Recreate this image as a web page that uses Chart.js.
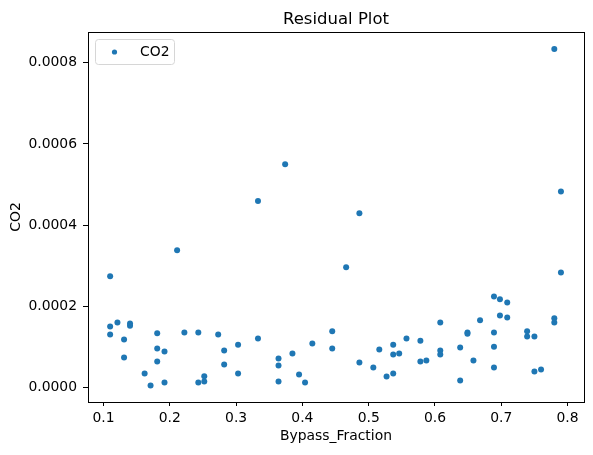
<!DOCTYPE html>
<html>
<head>
<meta charset="utf-8">
<script src="https://cdn.jsdelivr.net/npm/chart.js@4/dist/chart.umd.min.js"></script>
<style>
  html, body { margin: 0; padding: 0; background: #fff; }
  #wrap { width: 593px; height: 455px; position: relative; }
</style>
</head>
<body>
<div id="wrap"><canvas id="residualChart"></canvas></div>
<script>
// residual data
const bypassFraction = [
  0.110, 0.211, 0.110, 0.121, 0.140, 0.140, 0.110, 0.131, 0.131, 0.181,
  0.181, 0.192, 0.181, 0.162, 0.171, 0.192, 0.222, 0.243, 0.243, 0.252,
  0.252, 0.273, 0.282, 0.282, 0.303, 0.303, 0.333, 0.374, 0.333, 0.486,
  0.466, 0.445, 0.364, 0.364, 0.364, 0.385, 0.415, 0.395, 0.404, 0.445,
  0.486, 0.507, 0.516, 0.527, 0.537, 0.537, 0.537, 0.546, 0.557, 0.578,
  0.578, 0.587, 0.608, 0.608, 0.608, 0.638, 0.638, 0.649, 0.649, 0.658,
  0.668, 0.689, 0.698, 0.709, 0.698, 0.709, 0.689, 0.689, 0.689, 0.739,
  0.739, 0.750, 0.750, 0.760, 0.780, 0.780, 0.790, 0.780, 0.790
];
const co2Residual = [
  0.000274, 0.000338, 0.000150, 0.000160, 0.000157, 0.000152, 0.000130, 0.000118, 0.0000733, 0.000133,
  0.0000955, 0.0000881, 0.0000634, 0.0000338, 0.0000042, 0.0000116, 0.000135, 0.000135, 0.0000116, 0.0000272,
  0.000014, 0.000130, 0.0000906, 0.000056, 0.000105, 0.0000338, 0.000120, 0.000550, 0.000459, 0.000429,
  0.000296, 0.000138, 0.0000708, 0.0000535, 0.000014, 0.0000831, 0.000108, 0.0000313, 0.0000116, 0.0000955,
  0.000061, 0.0000486, 0.0000931, 0.0000264, 0.000105, 0.0000807, 0.0000338, 0.0000831, 0.000120, 0.000115,
  0.0000634, 0.0000659, 0.000160, 0.0000906, 0.0000807, 0.000098, 0.0000165, 0.000135, 0.000132, 0.0000659,
  0.000165, 0.000224, 0.000217, 0.000209, 0.000177, 0.000172, 0.000135, 0.000100, 0.0000486, 0.000138,
  0.000125, 0.000125, 0.0000387, 0.0000437, 0.000170, 0.000160, 0.000283, 0.000834, 0.000483
];
const xTicks = [0.1, 0.2, 0.3, 0.4, 0.5, 0.6, 0.7, 0.8];
const yTicks = [0, 0.0002, 0.0004, 0.0006, 0.0008];
const chartTitle = 'Residual Plot';

const FONT = "'DejaVu Sans', sans-serif";
const BLUE = '#1f77b4';

// matplotlib-like frame, title over the axes and legend box inside them
const frameAndLegend = {
  id: 'frameAndLegend',
  afterDraw(chart) {
    const { ctx, chartArea: a } = chart;
    ctx.save();
    ctx.strokeStyle = '#000';
    ctx.lineWidth = 1;
    ctx.strokeRect(Math.round(a.left) + 0.5, Math.round(a.top) + 0.5,
                   Math.round(a.right - a.left), Math.round(a.bottom - a.top));

    // title centred on the plot area, not the canvas
    ctx.fillStyle = '#000';
    ctx.font = '16.5px ' + FONT;
    ctx.textAlign = 'center';
    ctx.textBaseline = 'alphabetic';
    ctx.fillText(chartTitle, (a.left + a.right) / 2, 24.3);

    // legend
    const lx = a.left + 7, ly = a.top + 7, lw = 79, lh = 25, r = 3;
    ctx.beginPath();
    ctx.roundRect(lx + 0.5, ly + 0.5, lw, lh, r);
    ctx.fillStyle = 'rgba(255,255,255,0.8)';
    ctx.fill();
    ctx.strokeStyle = '#d6d6d6';
    ctx.stroke();
    ctx.beginPath();
    ctx.arc(lx + 19.5, ly + 13, 2.6, 0, Math.PI * 2);
    ctx.fillStyle = BLUE;
    ctx.fill();
    ctx.fillStyle = '#000';
    ctx.font = '13.9px ' + FONT;
    ctx.textAlign = 'left';
    ctx.textBaseline = 'middle';
    ctx.fillText(chart.data.datasets[0].label, lx + 45, ly + 13.5);
    ctx.restore();
  }
};

const points = bypassFraction.map((x, i) => ({ x: x, y: co2Residual[i] }));

new Chart(document.getElementById('residualChart'), {
  type: 'scatter',
  data: {
    datasets: [{
      label: 'CO2',
      data: points,
      backgroundColor: BLUE,
      borderColor: BLUE,
      borderWidth: 0,
      pointRadius: 3,
      pointHoverRadius: 3
    }]
  },
  options: {
    responsive: true,
    maintainAspectRatio: false,
    animation: false,
    layout: { padding: { left: 0, right: 9, top: 32, bottom: 0 } },
    plugins: {
      legend: { display: false },
      tooltip: { enabled: false },
      title: { display: false }
    },
    scales: {
      x: {
        type: 'linear',
        min: 0.0766,
        max: 0.8248,
        afterFit(scale) { scale.height = 53; },
        afterBuildTicks(scale) { scale.ticks = xTicks.map(v => ({ value: v })); },
        border: { display: false },
        grid: { drawOnChartArea: false, drawTicks: true, tickLength: 4, color: '#000', tickColor: '#000' },
        ticks: {
          color: '#000',
          font: { family: FONT, size: 13.9 },
          padding: 4,
          maxRotation: 0,
          callback: v => v.toFixed(1)
        },
        title: {
          display: true,
          text: 'Bypass_Fraction',
          color: '#000',
          font: { family: FONT, size: 13.9 },
          padding: { top: 0, bottom: 10 }
        }
      },
      y: {
        type: 'linear',
        min: -0.0000363,
        max: 0.000876,
        afterFit(scale) { scale.width = 88; },
        afterBuildTicks(scale) { scale.ticks = yTicks.map(v => ({ value: v })); },
        border: { display: false },
        grid: { drawOnChartArea: false, drawTicks: true, tickLength: 5, color: '#000', tickColor: '#000' },
        ticks: {
          color: '#000',
          font: { family: FONT, size: 13.9 },
          padding: 6,
          callback: v => v.toFixed(4)
        },
        title: {
          display: true,
          text: 'CO2',
          color: '#000',
          font: { family: FONT, size: 13.9 },
          padding: { top: 8, bottom: 0 }
        }
      }
    }
  },
  plugins: [frameAndLegend]
});
</script>
</body>
</html>
